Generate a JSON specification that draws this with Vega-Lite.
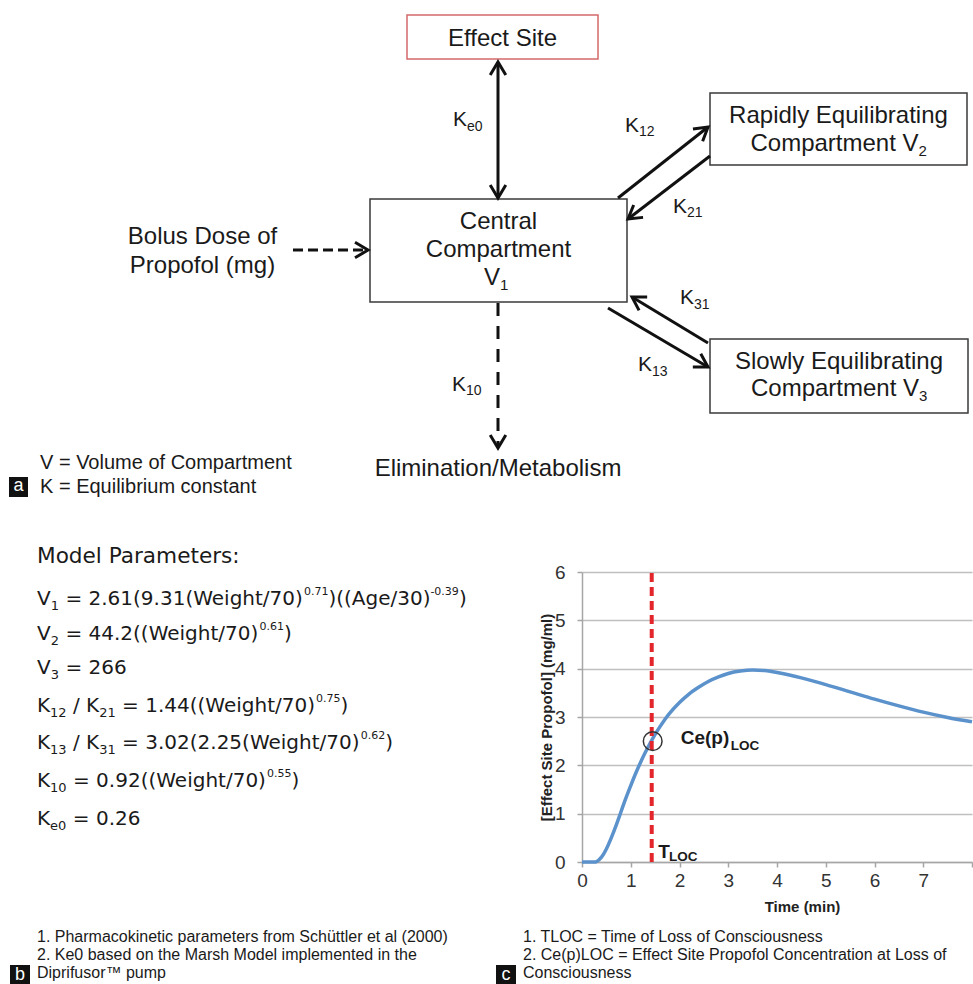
{
  "$schema": "https://vega.github.io/schema/vega-lite/v6.json",
  "padding": 0,
  "bounds": "flush",
  "spacing": 0,
  "background": "white",
  "config": {"view": {"stroke": null}},
  "vconcat": [
    {
      "width": 973,
      "height": 572,
      "encoding": {
        "x": {"field": "x", "type": "quantitative", "scale": {"domain": [0, 973], "nice": false, "zero": false}, "axis": null},
        "y": {"field": "y", "type": "quantitative", "scale": {"domain": [0, 572], "nice": false, "zero": false, "reverse": true}, "axis": null}
      },
      "layer": [
        {
          "data": {"values": [{"x": 407, "x2": 598, "y": 15, "y2": 59}]},
          "mark": {"type": "rect", "fill": "white", "stroke": "#d4696b", "strokeWidth": 1.5},
          "encoding": {"x2": {"field": "x2"}, "y2": {"field": "y2"}}
        },
        {
          "data": {"values": [
            {"x": 370, "x2": 627, "y": 199, "y2": 302},
            {"x": 710, "x2": 967, "y": 93, "y2": 165},
            {"x": 710, "x2": 968, "y": 339, "y2": 413}
          ]},
          "mark": {"type": "rect", "fill": "white", "stroke": "#3a3a3a", "strokeWidth": 1.5},
          "encoding": {"x2": {"field": "x2"}, "y2": {"field": "y2"}}
        },
        {
          "data": {"values": [
            {"x": 498, "y": 62, "x2": 498, "y2": 198},
            {"x": 618, "y": 198, "x2": 708, "y2": 127},
            {"x": 710, "y": 156, "x2": 628, "y2": 219},
            {"x": 608, "y": 308, "x2": 708, "y2": 367},
            {"x": 708, "y": 343, "x2": 632, "y2": 297}
          ]},
          "mark": {"type": "rule", "color": "#111", "strokeWidth": 3},
          "encoding": {"x2": {"field": "x2"}, "y2": {"field": "y2"}}
        },
        {
          "data": {"values": [{"x": 293, "y": 250, "x2": 366, "y2": 250}]},
          "mark": {"type": "rule", "color": "#111", "strokeWidth": 3, "strokeDash": [10, 5]},
          "encoding": {"x2": {"field": "x2"}, "y2": {"field": "y2"}}
        },
        {
          "data": {"values": [{"x": 498, "y": 303, "x2": 498, "y2": 446}]},
          "mark": {"type": "rule", "color": "#111", "strokeWidth": 3, "strokeDash": [13, 10]},
          "encoding": {"x2": {"field": "x2"}, "y2": {"field": "y2"}}
        },
        {
          "data": {"values": [
            {"x": 498, "y": 62, "a": 270},
            {"x": 498, "y": 198, "a": 90},
            {"x": 368, "y": 250, "a": 0},
            {"x": 708, "y": 127, "a": 321.7},
            {"x": 628, "y": 219, "a": 142.9},
            {"x": 708, "y": 367, "a": 30.5},
            {"x": 632, "y": 297, "a": 211.2},
            {"x": 498, "y": 448, "a": 90}
          ]},
          "mark": {"type": "point", "shape": "M-1,-0.6L0,0L-1,0.6", "size": 676, "filled": false, "stroke": "#111", "strokeWidth": 3, "opacity": 1, "strokeJoin": "miter"},
          "encoding": {"angle": {"field": "a", "type": "quantitative", "scale": null}}
        },
        {
          "data": {"values": [
            {"x": 502.5, "y": 39, "s": "Effect Site"},
            {"x": 498.5, "y": 222, "s": "Central"},
            {"x": 498.5, "y": 250, "s": "Compartment"},
            {"x": 838.5, "y": 116, "s": "Rapidly Equilibrating"},
            {"x": 839, "y": 362, "s": "Slowly Equilibrating"},
            {"x": 202.5, "y": 237, "s": "Bolus Dose of"},
            {"x": 202.5, "y": 266, "s": "Propofol (mg)"},
            {"x": 498, "y": 469, "s": "Elimination/Metabolism"}
          ]},
          "mark": {"type": "text", "font": "Liberation Sans", "fontSize": 24, "fill": "#1a1a1a", "align": "center", "baseline": "middle"},
          "encoding": {"text": {"field": "s"}}
        },
        {
          "data": {"values": [
            {"x": 750.5, "y": 144, "s": "Compartment V"},
            {"x": 751, "y": 389, "s": "Compartment V"},
            {"x": 484, "y": 278, "s": "V"}
          ]},
          "mark": {"type": "text", "font": "Liberation Sans", "fontSize": 24, "fill": "#1a1a1a", "align": "left", "baseline": "middle"},
          "encoding": {"text": {"field": "s"}}
        },
        {
          "data": {"values": [
            {"x": 918.5, "y": 151, "s": "2"},
            {"x": 919, "y": 396, "s": "3"},
            {"x": 500, "y": 285, "s": "1"}
          ]},
          "mark": {"type": "text", "font": "Liberation Sans", "fontSize": 15, "fill": "#1a1a1a", "align": "left", "baseline": "middle"},
          "encoding": {"text": {"field": "s"}}
        },
        {
          "data": {"values": [
            {"x": 453, "y": 120, "s": "K"},
            {"x": 625, "y": 126, "s": "K"},
            {"x": 673, "y": 207, "s": "K"},
            {"x": 680, "y": 298, "s": "K"},
            {"x": 638, "y": 365, "s": "K"},
            {"x": 452, "y": 385, "s": "K"}
          ]},
          "mark": {"type": "text", "font": "Liberation Sans", "fontSize": 21, "fill": "#1a1a1a", "align": "left", "baseline": "middle"},
          "encoding": {"text": {"field": "s"}}
        },
        {
          "data": {"values": [
            {"x": 467, "y": 127, "s": "e0"},
            {"x": 639, "y": 132, "s": "12"},
            {"x": 687, "y": 213, "s": "21"},
            {"x": 694, "y": 305, "s": "31"},
            {"x": 652, "y": 372, "s": "13"},
            {"x": 466, "y": 391, "s": "10"}
          ]},
          "mark": {"type": "text", "font": "Liberation Sans", "fontSize": 14, "fill": "#1a1a1a", "align": "left", "baseline": "middle"},
          "encoding": {"text": {"field": "s"}}
        },
        {
          "data": {"values": [
            {"x": 40, "y": 463, "s": "V = Volume of Compartment"},
            {"x": 40, "y": 487, "s": "K = Equilibrium constant"}
          ]},
          "mark": {"type": "text", "font": "Liberation Sans", "fontSize": 20, "fill": "#1a1a1a", "align": "left", "baseline": "middle"},
          "encoding": {"text": {"field": "s"}}
        },
        {
          "data": {"values": [{"x": 9, "x2": 28, "y": 477, "y2": 497}]},
          "mark": {"type": "rect", "fill": "#111"},
          "encoding": {"x2": {"field": "x2"}, "y2": {"field": "y2"}}
        },
        {
          "data": {"values": [{"x": 18.5, "y": 486, "s": "a"}]},
          "mark": {"type": "text", "font": "Liberation Sans", "fontSize": 18, "fill": "white", "align": "center", "baseline": "middle"},
          "encoding": {"text": {"field": "s"}}
        }
      ]
    },
    {
      "bounds": "flush",
      "spacing": 0,
      "hconcat": [
        {
          "width": 582,
          "height": 290,
          "encoding": {
            "x": {"field": "x", "type": "quantitative", "scale": {"domain": [0, 582], "nice": false, "zero": false}, "axis": null},
            "y": {"field": "y", "type": "quantitative", "scale": {"domain": [572, 862], "nice": false, "zero": false, "reverse": true}, "axis": null}
          },
          "layer": [
            {
              "data": {"values": [{"x": 37, "y": 557, "s": "Model Parameters:"}]},
              "mark": {"type": "text", "font": "DejaVu Sans", "fontSize": 21.6, "fill": "#1a1a1a", "align": "left", "baseline": "middle"},
              "encoding": {"text": {"field": "s"}}
            },
            {
              "data": {"values": [
                {"x": 37, "y": 599, "s": "V"},
                {"x": 65.4, "y": 599, "s": "= 2.61(9.31(Weight/70)"},
                {"x": 328.4, "y": 599, "s": ")((Age/30)"},
                {"x": 458.9, "y": 599, "s": ")"},
                {"x": 37, "y": 634, "s": "V"},
                {"x": 65.4, "y": 634, "s": "= 44.2((Weight/70)"},
                {"x": 283.9, "y": 634, "s": ")"},
                {"x": 37, "y": 668, "s": "V"},
                {"x": 65.4, "y": 668, "s": "= 266"},
                {"x": 37, "y": 706, "s": "K"},
                {"x": 73, "y": 706, "s": "/ K"},
                {"x": 122.1, "y": 706, "s": "= 1.44((Weight/70)"},
                {"x": 340.6, "y": 706, "s": ")"},
                {"x": 37, "y": 743, "s": "K"},
                {"x": 73, "y": 743, "s": "/ K"},
                {"x": 122.1, "y": 743, "s": "= 3.02(2.25(Weight/70)"},
                {"x": 385.2, "y": 743, "s": ")"},
                {"x": 37, "y": 781, "s": "K"},
                {"x": 73, "y": 781, "s": "= 0.92((Weight/70)"},
                {"x": 291.5, "y": 781, "s": ")"},
                {"x": 37, "y": 819, "s": "K"},
                {"x": 72.8, "y": 819, "s": "= 0.26"}
              ]},
              "mark": {"type": "text", "font": "DejaVu Sans", "fontSize": 20, "fill": "#1a1a1a", "align": "left", "baseline": "middle"},
              "encoding": {"text": {"field": "s"}}
            },
            {
              "data": {"values": [
                {"x": 50.7, "y": 606, "s": "1"},
                {"x": 50.7, "y": 641, "s": "2"},
                {"x": 50.7, "y": 675, "s": "3"},
                {"x": 50.1, "y": 713, "s": "12"},
                {"x": 99.2, "y": 713, "s": "21"},
                {"x": 50.1, "y": 750, "s": "13"},
                {"x": 99.2, "y": 750, "s": "31"},
                {"x": 50.1, "y": 788, "s": "10"},
                {"x": 50.1, "y": 826, "s": "e0"}
              ]},
              "mark": {"type": "text", "font": "DejaVu Sans", "fontSize": 13, "fill": "#1a1a1a", "align": "left", "baseline": "middle"},
              "encoding": {"text": {"field": "s"}}
            },
            {
              "data": {"values": [
                {"x": 303.9, "y": 592, "s": "0.71"},
                {"x": 430.4, "y": 592, "s": "-0.39"},
                {"x": 259.4, "y": 627, "s": "0.61"},
                {"x": 316.1, "y": 699, "s": "0.75"},
                {"x": 360.7, "y": 736, "s": "0.62"},
                {"x": 267, "y": 774, "s": "0.55"}
              ]},
              "mark": {"type": "text", "font": "DejaVu Sans", "fontSize": 11, "fill": "#1a1a1a", "align": "left", "baseline": "middle"},
              "encoding": {"text": {"field": "s"}}
            }
          ]
        },
        {
          "width": 390,
          "height": 290,
          "encoding": {
            "x": {
              "field": "t", "type": "quantitative",
              "scale": {"domain": [0, 8], "nice": false, "zero": false},
              "axis": {
                "values": [0, 1, 2, 3, 4, 5, 6, 7, 8],
                "labelExpr": "datum.value == 8 ? '' : datum.label",
                "labelFlush": false,
                "grid": false,
                "domainColor": "#a6a6a6", "domainWidth": 1.5,
                "tickColor": "#a6a6a6", "tickSize": 5, "tickWidth": 1.5,
                "labelFont": "Liberation Sans", "labelFontSize": 19, "labelColor": "#333", "labelPadding": 4,
                "title": "Time (min)",
                "titleFont": "Liberation Sans", "titleFontSize": 15, "titleFontWeight": "bold", "titleColor": "#222",
                "titleX": 220, "titleY": 44, "titleBaseline": "middle", "titleAlign": "center"
              }
            },
            "y": {
              "field": "c", "type": "quantitative",
              "scale": {"domain": [0, 6], "nice": false, "zero": false},
              "axis": {
                "values": [0, 1, 2, 3, 4, 5, 6],
                "labelFlush": false,
                "grid": true, "gridColor": "#bfbfbf", "gridWidth": 1.5,
                "domainColor": "#a6a6a6", "domainWidth": 1.5,
                "tickColor": "#a6a6a6", "tickSize": 5, "tickWidth": 1.5,
                "labelFont": "Liberation Sans", "labelFontSize": 19, "labelColor": "#333", "labelPadding": 12,
                "title": "[Effect Site Propofol] (mg/ml)",
                "titleFont": "Liberation Sans", "titleFontSize": 15, "titleFontWeight": "bold", "titleColor": "#222",
                "titleAngle": 270, "titleX": -36, "titleY": 145, "titleBaseline": "middle", "titleAlign": "center"
              }
            }
          },
          "layer": [
            {
              "data": {"values": [
                {"t": 0, "c": 0}, {"t": 0.25, "c": 0}, {"t": 0.3, "c": 0.01}, {"t": 0.4, "c": 0.1},
                {"t": 0.5, "c": 0.27}, {"t": 0.6, "c": 0.5}, {"t": 0.7, "c": 0.76}, {"t": 0.8, "c": 1.04},
                {"t": 0.9, "c": 1.32}, {"t": 1.0, "c": 1.58}, {"t": 1.1, "c": 1.83}, {"t": 1.2, "c": 2.06},
                {"t": 1.3, "c": 2.27}, {"t": 1.4, "c": 2.46}, {"t": 1.5, "c": 2.64}, {"t": 1.6, "c": 2.8},
                {"t": 1.7, "c": 2.95}, {"t": 1.8, "c": 3.08}, {"t": 2.0, "c": 3.3}, {"t": 2.2, "c": 3.48},
                {"t": 2.4, "c": 3.62}, {"t": 2.6, "c": 3.74}, {"t": 2.8, "c": 3.83}, {"t": 3.0, "c": 3.9},
                {"t": 3.25, "c": 3.95}, {"t": 3.5, "c": 3.97}, {"t": 3.75, "c": 3.96}, {"t": 4.0, "c": 3.92},
                {"t": 4.5, "c": 3.81}, {"t": 5.0, "c": 3.67}, {"t": 5.5, "c": 3.52}, {"t": 6.0, "c": 3.37},
                {"t": 6.5, "c": 3.23}, {"t": 7.0, "c": 3.1}, {"t": 7.5, "c": 2.99}, {"t": 8.0, "c": 2.9}
              ]},
              "mark": {"type": "line", "color": "#5b92cc", "strokeWidth": 3.5, "interpolate": "monotone"}
            },
            {
              "data": {"values": [{"t": 1.43, "c": 0, "c2": 6}]},
              "mark": {"type": "rule", "color": "#e3262b", "strokeWidth": 4, "strokeDash": [9, 5]},
              "encoding": {"y2": {"field": "c2"}}
            },
            {
              "data": {"values": [{"t": 1.45, "c": 2.5}]},
              "mark": {"type": "point", "shape": "circle", "size": 350, "filled": false, "stroke": "#333", "strokeWidth": 1.5, "opacity": 1}
            },
            {
              "data": {"values": [{"t": 2.025, "c": 2.57, "s": "Ce(p)"}, {"t": 1.565, "c": 0.21, "s": "T"}]},
              "mark": {"type": "text", "font": "Liberation Sans", "fontSize": 19, "fontWeight": "bold", "fill": "#1a1a1a", "align": "left", "baseline": "middle"},
              "encoding": {"text": {"field": "s"}}
            },
            {
              "data": {"values": [{"t": 3.05, "c": 2.4, "s": "LOC"}, {"t": 1.785, "c": 0.11, "s": "LOC"}]},
              "mark": {"type": "text", "font": "Liberation Sans", "fontSize": 13.5, "fontWeight": "bold", "fill": "#1a1a1a", "align": "left", "baseline": "middle"},
              "encoding": {"text": {"field": "s"}}
            }
          ]
        }
      ]
    },
    {
      "width": 973,
      "height": 412,
      "encoding": {
        "x": {"field": "x", "type": "quantitative", "scale": {"domain": [0, 973], "nice": false, "zero": false}, "axis": null},
        "y": {"field": "y", "type": "quantitative", "scale": {"domain": [572, 984], "nice": false, "zero": false, "reverse": true}, "axis": null}
      },
      "layer": [
        {
          "data": {"values": [
            {"x": 37, "y": 937, "s": "1. Pharmacokinetic parameters from Schüttler et al (2000)"},
            {"x": 37, "y": 955, "s": "2. Ke0 based on the Marsh Model implemented in the"},
            {"x": 37, "y": 973, "s": "Diprifusor™ pump"},
            {"x": 523, "y": 937, "s": "1. TLOC = Time of Loss of Consciousness"},
            {"x": 523, "y": 955, "s": "2. Ce(p)LOC = Effect Site Propofol Concentration at Loss of"},
            {"x": 523, "y": 973, "s": "Consciousness"}
          ]},
          "mark": {"type": "text", "font": "Liberation Sans", "fontSize": 16, "fill": "#1a1a1a", "align": "left", "baseline": "middle"},
          "encoding": {"text": {"field": "s"}}
        },
        {
          "data": {"values": [{"x": 10, "x2": 30, "y": 965, "y2": 984}, {"x": 496, "x2": 516, "y": 965, "y2": 984}]},
          "mark": {"type": "rect", "fill": "#111"},
          "encoding": {"x2": {"field": "x2"}, "y2": {"field": "y2"}}
        },
        {
          "data": {"values": [{"x": 20, "y": 975, "s": "b"}, {"x": 506, "y": 975, "s": "c"}]},
          "mark": {"type": "text", "font": "Liberation Sans", "fontSize": 18, "fill": "white", "align": "center", "baseline": "middle"},
          "encoding": {"text": {"field": "s"}}
        }
      ]
    }
  ]
}
